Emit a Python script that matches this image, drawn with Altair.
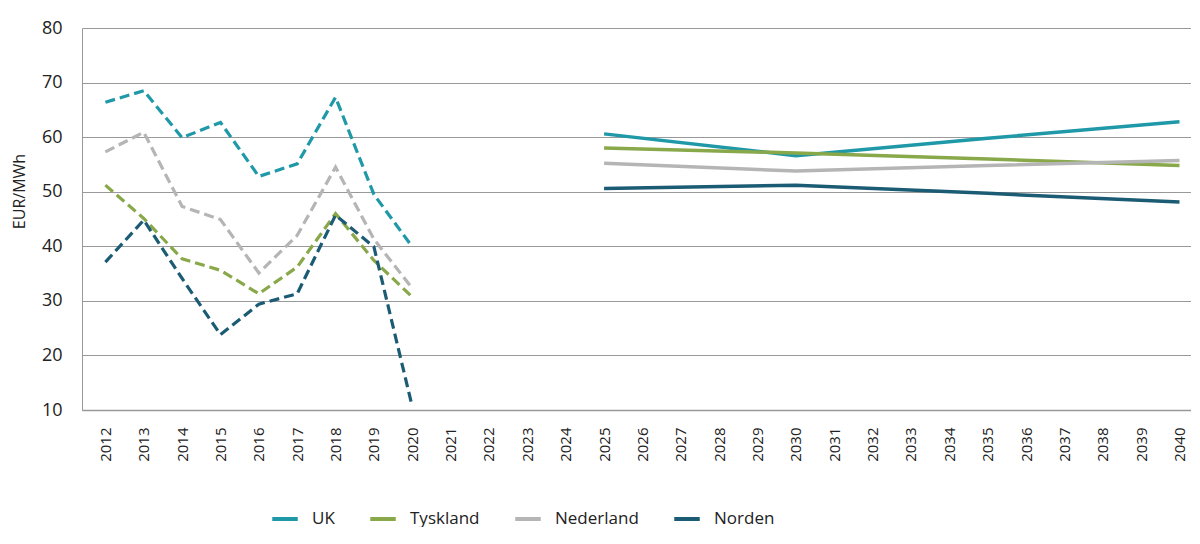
import altair as alt
import pandas as pd

series = ["UK", "Tyskland", "Nederland", "Norden"]
colors = ["#1f98a8", "#88a84a", "#b5b5b5", "#1b5b74"]

all_years = [str(y) for y in range(2012, 2041)]

years_hist = ["2012", "2013", "2014", "2015", "2016", "2017", "2018", "2019", "2020"]
uk_hist = [66.4, 68.5, 59.9, 62.7, 52.8, 55.1, 67.3, 49.5, 39.9]
ty_hist = [51.2, 45.1, 37.7, 35.6, 31.3, 36.2, 46.0, 37.4, 30.7]
nl_hist = [57.3, 60.9, 47.3, 44.9, 35.1, 42.0, 54.5, 41.3, 32.3]
no_hist = [37.1, 44.8, 34.1, 23.8, 29.4, 31.3, 45.7, 39.9, 10.6]

years_proj = ["2025", "2030", "2035", "2040"]
uk_proj = [60.6, 56.6, 59.8, 62.8]
ty_proj = [58.0, 57.1, 56.0, 54.8]
nl_proj = [55.2, 53.8, 54.8, 55.7]
no_proj = [50.6, 51.2, 49.7, 48.1]

rows_hist = []
for name, vals in zip(series, [uk_hist, ty_hist, nl_hist, no_hist]):
    for y, v in zip(years_hist, vals):
        rows_hist.append({"År": y, "Serie": name, "Verdi": v})
rows_proj = []
for name, vals in zip(series, [uk_proj, ty_proj, nl_proj, no_proj]):
    for y, v in zip(years_proj, vals):
        rows_proj.append({"År": y, "Serie": name, "Verdi": v})

df_hist = pd.DataFrame(rows_hist)
df_proj = pd.DataFrame(rows_proj)

FONT = "Open Sans"

x_enc = alt.X(
    "År:O",
    scale=alt.Scale(type="point", domain=all_years, padding=0.455, align=0.67),
    axis=alt.Axis(
        title=None, labelAngle=-90, labelFontSize=15, labelColor="#222",
        ticks=False, domainColor="#999", domainWidth=1.5, labelPadding=17,
        labelBaseline="middle", labelAlign="right", grid=False,
    ),
)
y_enc = alt.Y(
    "Verdi:Q",
    scale=alt.Scale(domain=[10, 80], nice=False, zero=False),
    axis=alt.Axis(
        title="EUR/MWh", titleFontSize=16, titleFontWeight="normal", titleColor="#222",
        titlePadding=14, titleY=163,
        values=[10, 20, 30, 40, 50, 60, 70, 80], labelFontSize=18, labelColor="#222",
        ticks=False, domain=True, domainColor="#999", labelPadding=20,
        grid=True, gridColor="#999", gridWidth=1,
    ),
)
color_enc = alt.Color(
    "Serie:N",
    scale=alt.Scale(domain=series, range=colors),
    legend=alt.Legend(
        title=None, orient="none", legendX=188, legendY=476, direction="horizontal",
        symbolType="stroke", symbolStrokeWidth=4, symbolSize=650, labelFontSize=17,
        labelColor="#222", columnPadding=27, labelOffset=12, symbolDash=[1, 0],
    ),
    sort=series,
)

proj = alt.Chart(df_proj).mark_line(strokeWidth=3.5).encode(
    x=x_enc, y=y_enc, color=color_enc, detail="Serie:N"
)
hist = alt.Chart(df_hist).mark_line(strokeWidth=3.2, strokeDash=[10, 5]).encode(
    x=x_enc, y=y_enc, color=color_enc, detail="Serie:N"
)

chart = (
    alt.layer(proj, hist)
    .properties(width=1109, height=382, padding={"left": 3, "top": 11, "right": 0, "bottom": 0})
    .configure(font=FONT)
    .configure_view(stroke=None)
)

chart.save("out.html", embed_options={"renderer": "svg", "actions": False})
